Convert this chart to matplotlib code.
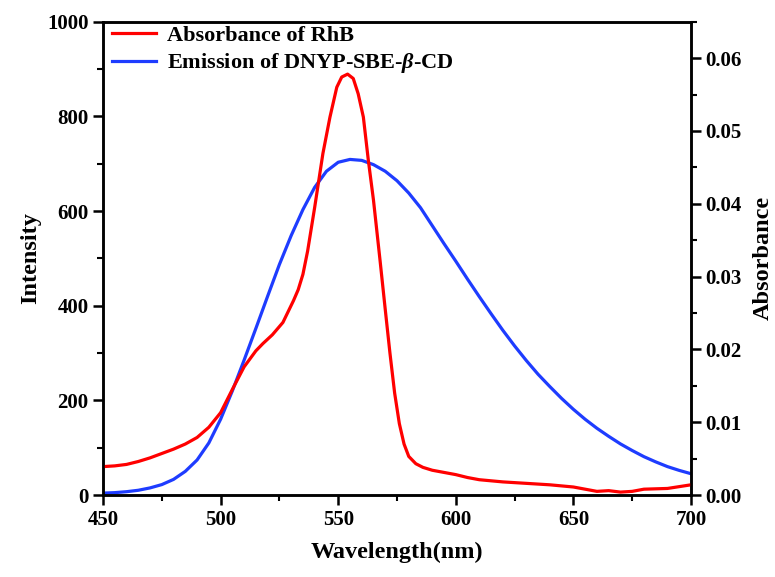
import matplotlib
matplotlib.use('Agg')
from matplotlib import pyplot as plt
from matplotlib.ticker import MultipleLocator, FormatStrFormatter

plt.rcParams['font.family'] = 'Liberation Serif'
plt.rcParams['font.weight'] = 'bold'
plt.rcParams['mathtext.fontset'] = 'custom'
plt.rcParams['mathtext.it'] = 'Liberation Serif:bold:italic'
plt.rcParams['mathtext.rm'] = 'Liberation Serif:bold'

#--- Absorbance of RhB (right axis)
wl_abs = [450, 455, 460, 465, 470, 475, 480, 485, 490, 495, 500, 505, 510, 515,
          518, 522, 526.5, 531, 533, 535, 537, 540, 543.5, 546.5, 549.4, 551.5,
          554, 556.4, 558.5, 560.7, 562.8, 565, 567.8, 570, 572, 574, 576, 578,
          580, 583, 586, 590, 595, 600, 605, 610, 620, 630, 640, 650, 655, 660,
          665, 670, 675, 680, 690, 700]
absorbance = [0.0039, 0.0040, 0.0042, 0.0046, 0.0051, 0.0057, 0.0063, 0.0070,
              0.0079, 0.0093, 0.0113, 0.0145, 0.0176, 0.0198, 0.0208, 0.0220,
              0.0237, 0.0267, 0.0282, 0.0303, 0.0335, 0.0395, 0.0469, 0.0519,
              0.0560, 0.0574, 0.0578, 0.0572, 0.0551, 0.0519, 0.0460, 0.0405,
              0.0322, 0.0255, 0.0195, 0.0140, 0.0098, 0.0070, 0.0053, 0.0043,
              0.0038, 0.0034, 0.0031, 0.0028, 0.0024, 0.0021, 0.0018, 0.0016,
              0.0014, 0.0011, 0.0008, 0.0005, 0.0006, 0.0004, 0.0005, 0.0008,
              0.0009, 0.0014]

#--- Emission of DNYP-SBE-beta-CD (left axis)
wl_em = list(range(450, 701, 5))
intensity = [4, 5, 7, 10, 15, 22, 33, 50, 74, 110, 160, 220, 285, 352, 420,
             487, 548, 603, 650, 684, 703, 709, 707, 698, 684, 664, 638, 607,
             569, 531, 494, 456, 419, 383, 348, 315, 284, 255, 229, 204, 181,
             160, 141, 124, 108, 94, 81, 70, 60, 52, 45]

fig = plt.figure(figsize=(7.75, 5.77), dpi=100)
ax = fig.add_axes([0.1329, 0.1421, 0.7587, 0.8203])
ax2 = ax.twinx()

l2, = ax.plot(wl_em, intensity, color='#1E3CFF', lw=2.3,
              label=r'Emission of DNYP-SBE-$\beta$-CD')
l1, = ax2.plot(wl_abs, absorbance, color='#FF0000', lw=2.3,
               label='Absorbance of RhB')

ax.set_xlim(450, 700)
ax.set_ylim(0, 1000)
ax2.set_ylim(0, 0.065)

ax.xaxis.set_major_locator(MultipleLocator(50))
ax.xaxis.set_minor_locator(MultipleLocator(25))
ax.yaxis.set_major_locator(MultipleLocator(200))
ax.yaxis.set_minor_locator(MultipleLocator(100))
ax2.yaxis.set_major_locator(MultipleLocator(0.01))
ax2.yaxis.set_minor_locator(MultipleLocator(0.005))
ax2.yaxis.set_major_formatter(FormatStrFormatter('%.2f'))

for a in (ax, ax2):
    for s in a.spines.values():
        s.set_linewidth(1.8)
    a.tick_params(which='major', direction='out', length=7, width=1.8,
                  labelsize=15)
    a.tick_params(which='minor', direction='out', length=4, width=1.5)
ax.tick_params(which='both', top=False, right=False)
ax2.tick_params(which='both', left=False, top=False)

ax.set_xlabel('Wavelength(nm)', fontsize=17.5, fontweight='bold', labelpad=9)
ax.set_ylabel('Intensity', fontsize=17.5, fontweight='bold')
ax2.set_ylabel('Absorbance', fontsize=17.5, fontweight='bold', labelpad=8)

ax2.legend([l1, l2], [l1.get_label(), l2.get_label()], loc='upper left',
           bbox_to_anchor=(0.0, 1.011), frameon=False, fontsize=16,
           handlelength=2.0, handletextpad=0.5, borderaxespad=0.0,
           labelspacing=0.25)

plt.savefig('out.png', dpi=100)
